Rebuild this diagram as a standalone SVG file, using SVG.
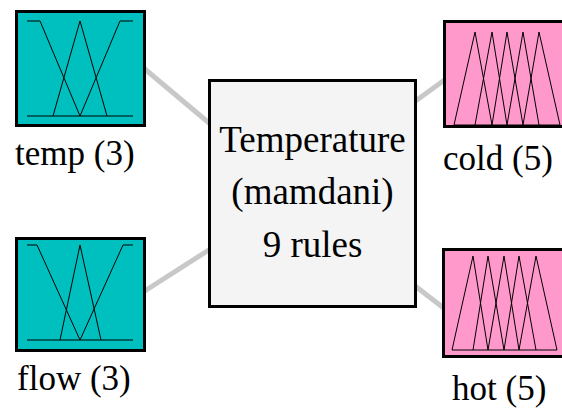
<svg xmlns="http://www.w3.org/2000/svg" width="562" height="410" viewBox="0 0 562 410">
<style>
.in{fill:#00bfbf;stroke:#000;stroke-width:3}
.out{fill:#ff99cc;stroke:#000;stroke-width:3}
.mf{fill:none;stroke:#000;stroke-width:1}
.sys{fill:#f4f4f4;stroke:#000;stroke-width:3}
.conn{stroke:#c8c8c8;stroke-width:5;fill:none}
.t{font-family:'Liberation Serif','Times New Roman',serif;fill:#000;font-size:35px}
.c{text-anchor:middle;font-size:37px}
</style>
<rect width="562" height="410" fill="#fff"/>
<g id="connectors">
<line class="conn" x1="140" y1="65" x2="215" y2="128"/>
<line class="conn" x1="140" y1="294" x2="215" y2="246"/>
<line class="conn" x1="410" y1="105" x2="450" y2="76"/>
<line class="conn" x1="410" y1="282" x2="450" y2="313"/>
</g>
<g id="temp">
<rect class="in" x="16.5" y="11.5" width="128" height="114"/>
<path class="mf" d="M27,116 H133 M27,21 H40 L80,116 M53,116 L80,21 L107,116 M80,116 L120,21 H133"/>
<text class="t" x="15" y="165">temp (3)</text>
</g>
<g id="flow">
<rect class="in" x="16.5" y="238.5" width="128" height="112"/>
<path class="mf" d="M27,340 H133 M27,245 H37 L80,340 M60,340 L80,245 L101,340 M80,340 L123,245 H133"/>
<text class="t" x="17" y="390">flow (3)</text>
</g>
<g id="system">
<rect class="sys" x="209.5" y="80.5" width="206" height="226"/>
<text class="t c" x="312.5" y="152">Temperature</text>
<text class="t c" x="312.5" y="204">(mamdani)</text>
<text class="t c" x="312.5" y="257">9 rules</text>
</g>
<g id="cold">
<rect class="out" x="444.5" y="21.5" width="130" height="105"/>
<path class="mf" d="M454,125 H560 M454,125 L475,32 L492,125 M475,125 L492,32 L507,125 M492,125 L507,32 L523,125 M507,125 L523,32 L539,125 M523,125 L539,32 L560,125"/>
<text class="t" x="443" y="170">cold (5)</text>
</g>
<g id="hot">
<rect class="out" x="443.5" y="249.5" width="130" height="107"/>
<path class="mf" d="M452,350 H557 M452,350 L473,256 L488,350 M473,350 L488,256 L504,350 M488,350 L504,256 L519,350 M504,350 L519,256 L536,350 M519,350 L536,256 L557,350"/>
<text class="t" x="452" y="400">hot (5)</text>
</g>
</svg>
